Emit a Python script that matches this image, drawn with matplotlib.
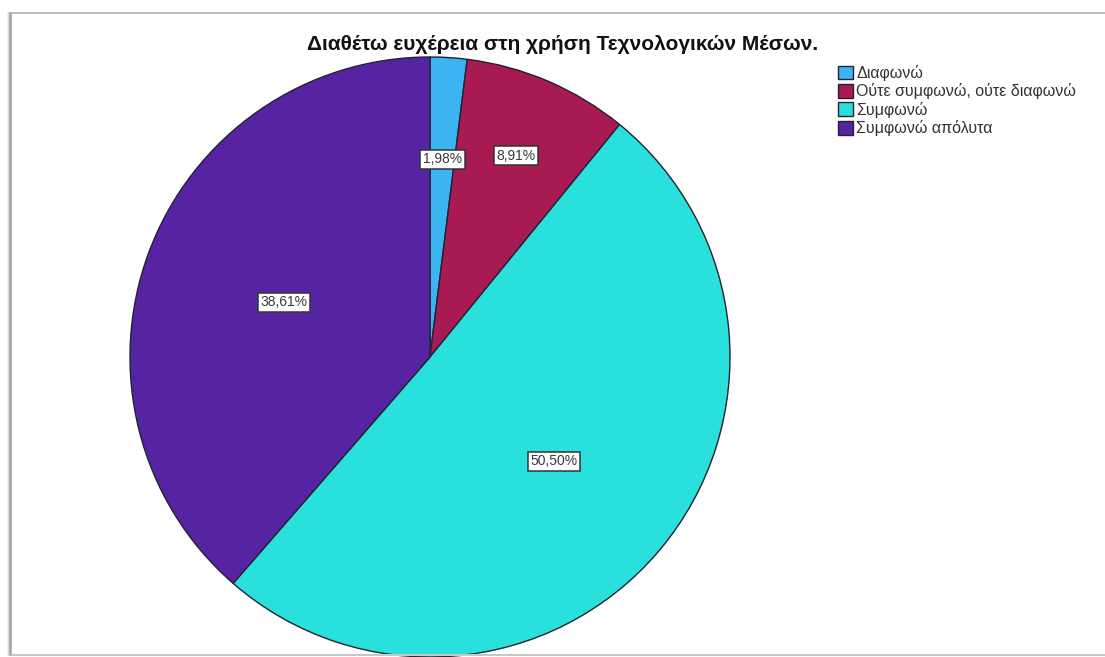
import numpy as np
import matplotlib
matplotlib.use('Agg')
from matplotlib import pyplot as plt

TITLE = 'Διαθέτω ευχέρεια στη χρήση Τεχνολογικών Μέσων.'
categories = ['Διαφωνώ', 'Ούτε συμφωνώ, ούτε διαφωνώ', 'Συμφωνώ', 'Συμφωνώ απόλυτα']
percents = [1.98, 8.91, 50.50, 38.61]
colors = ['#3bb5f2', '#a81a52', '#2ae0dc', '#5624a3']
label_dist = [0.66, 0.73, 0.54, 0.52]

plt.rcParams['font.family'] = ['Liberation Sans', 'DejaVu Sans']

W, H = 1105, 657
fig = plt.figure(figsize=[W / 100, H / 100], dpi=100)
ax = fig.add_axes([0, 0, 1, 1])

cx, cy, r = 430, H - 357, 300
wedges, _ = ax.pie(percents, colors=colors, startangle=90, counterclock=False,
                   center=(cx, cy), radius=r, frame=True,
                   wedgeprops=dict(edgecolor='#222233', linewidth=1.0))
ax.set_xlim(0, W)
ax.set_ylim(0, H)
ax.set_aspect('equal')
ax.axis('off')

# panel frame with a soft shadow on the left
for i, a in enumerate([0.15, 0.3, 0.5, 0.75]):
    ax.plot([8 + i, 8 + i], [2, H - 13], color='#888888', alpha=a, lw=1.2, zorder=1)
ax.plot([12, W], [H - 13, H - 13], color='#b0b0b0', lw=1.2, zorder=1)
ax.plot([12, W], [2, 2], color='#c8c8c8', lw=1.5, zorder=1)

for w, v, d in zip(wedges, percents, label_dist):
    mid = np.deg2rad((w.theta1 + w.theta2) / 2)
    x = cx + r * d * np.cos(mid)
    y = cy + r * d * np.sin(mid)
    ax.text(x, y, f'{v:.2f}%'.replace('.', ','), ha='center', va='center',
            fontsize=10, color='#3a3a3a',
            bbox=dict(boxstyle='square,pad=0.2', fc='white', ec='#333333', lw=1.1))

ax.text(563, H - 44, TITLE, ha='center', va='center', fontsize=15,
        fontweight='bold', color='#111111')

leg = ax.legend(wedges, categories, loc='upper left',
                bbox_to_anchor=(830 / W, 1 - 57 / H), frameon=False,
                fontsize=11.5, handlelength=0.95, handleheight=0.95,
                handletextpad=0.2, labelspacing=0.15, borderpad=0)
for t in leg.get_texts():
    t.set_color('#333333')

fig.savefig('out.png', dpi=100)
